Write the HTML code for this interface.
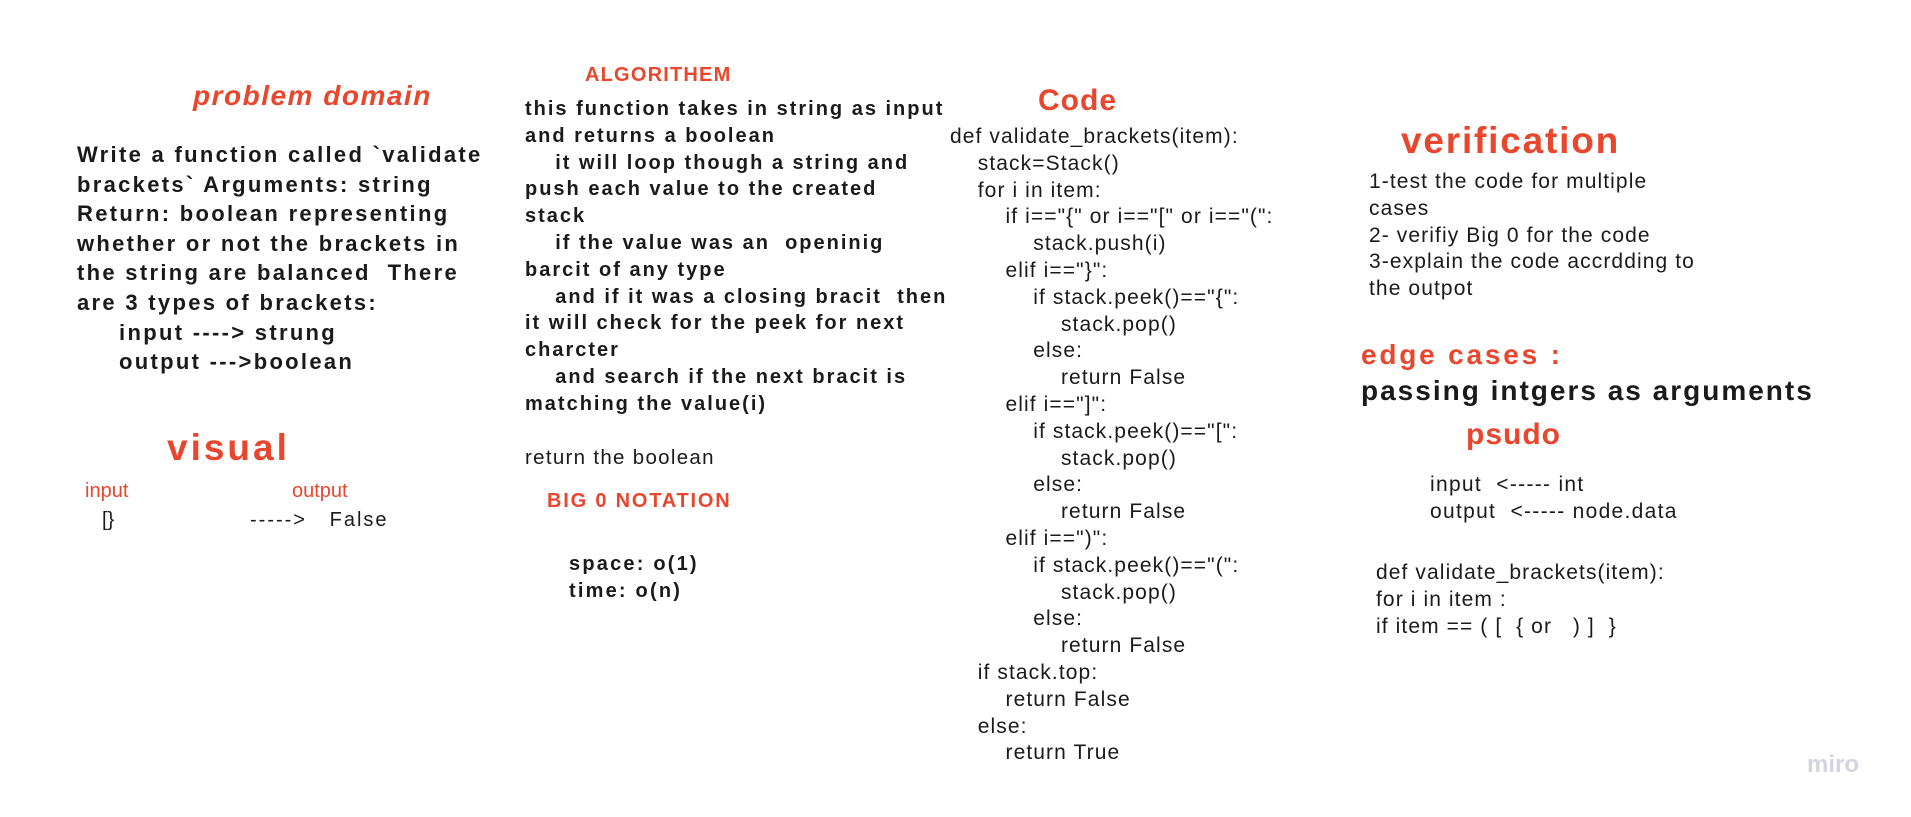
<!DOCTYPE html>
<html><head><meta charset="utf-8"><style>
body{margin:0;width:1911px;height:817px;background:#fff;position:relative;overflow:hidden;font-family:"Liberation Sans",Arial,sans-serif;color:#1a1a1a}
.a{position:absolute;white-space:pre}
.r{color:#e8472d}
.b{font-weight:bold}
</style></head><body>
<div class="a r b" style="left:193px;top:80px;font-size:28px;font-style:italic;line-height:32px;letter-spacing:1.5px">problem domain</div>
<div class="a b" style="left:77px;top:140px;font-size:22px;line-height:29.6px;letter-spacing:2.3px">Write a function called `validate
brackets` Arguments: string
Return: boolean representing
whether or not the brackets in
the string are balanced  There
are 3 types of brackets:
     input ----&gt; strung
     output ---&gt;boolean</div>
<div class="a r b" style="left:167px;top:428px;font-size:37px;line-height:40px;letter-spacing:3px">visual</div>
<div class="a r" style="left:85px;top:479px;font-size:20px;line-height:24px">input</div>
<div class="a r" style="left:292px;top:479px;font-size:20px;line-height:24px">output</div>
<div class="a" style="left:102px;top:508px;font-size:20px;line-height:24px">[}</div>
<div class="a" style="left:250px;top:508px;font-size:20px;line-height:24px;letter-spacing:2px">-----&gt;   False</div>

<div class="a r b" style="left:585px;top:63px;font-size:20px;line-height:24px;letter-spacing:1.2px">ALGORITHEM</div>
<div class="a b" style="left:525px;top:96px;font-size:20px;line-height:26.8px;letter-spacing:2px">this function takes in string as input
and returns a boolean
    it will loop though a string and
push each value to the created
stack
    if the value was an  openinig
barcit of any type
    and if it was a closing bracit  then
it will check for the peek for next
charcter
    and search if the next bracit is
matching the value(i)</div>
<div class="a" style="left:525px;top:446px;font-size:20.5px;line-height:24px;letter-spacing:1.3px">return the boolean</div>
<div class="a r b" style="left:547px;top:489px;font-size:20px;line-height:24px;letter-spacing:1.8px">BIG 0 NOTATION</div>
<div class="a b" style="left:569px;top:551px;font-size:20px;line-height:26.8px;letter-spacing:2.2px">space: o(1)
time: o(n)</div>

<div class="a r b" style="left:1038px;top:84px;font-size:30px;line-height:34px;letter-spacing:1px">Code</div>
<div class="a" style="left:950px;top:124px;font-size:21px;line-height:26.8px;letter-spacing:1.1px">def validate_brackets(item):
    stack=Stack()
    for i in item:
        if i=="{" or i=="[" or i=="(":
            stack.push(i)
        elif i=="}":
            if stack.peek()=="{":
                stack.pop()
            else:
                return False
        elif i=="]":
            if stack.peek()=="[":
                stack.pop()
            else:
                return False
        elif i==")":
            if stack.peek()=="(":
                stack.pop()
            else:
                return False
    if stack.top:
        return False
    else:
        return True</div>

<div class="a r b" style="left:1401px;top:120px;font-size:37px;line-height:42px;letter-spacing:1.8px">verification</div>
<div class="a" style="left:1369px;top:169px;font-size:21px;line-height:26.8px;letter-spacing:1.1px">1-test the code for multiple
cases
2- verifiy Big 0 for the code
3-explain the code accrdding to
the outpot</div>
<div class="a r b" style="left:1361px;top:339px;font-size:28px;line-height:32px;letter-spacing:2.8px">edge cases :</div>
<div class="a b" style="left:1361px;top:375px;font-size:28px;line-height:32px;letter-spacing:2px">passing intgers as arguments</div>
<div class="a r b" style="left:1466px;top:418px;font-size:30px;line-height:34px;letter-spacing:1px">psudo</div>
<div class="a" style="left:1430px;top:472px;font-size:21px;line-height:26.8px;letter-spacing:1.3px">input  &lt;----- int
output  &lt;----- node.data</div>
<div class="a" style="left:1376px;top:560px;font-size:21px;line-height:26.8px;letter-spacing:1.1px">def validate_brackets(item):
for i in item :
if item == ( [  { or   ) ]  }</div>
<div class="a b" style="left:1807px;top:751px;font-size:24px;line-height:28px;color:#d4d4de">miro</div>
</body></html>
